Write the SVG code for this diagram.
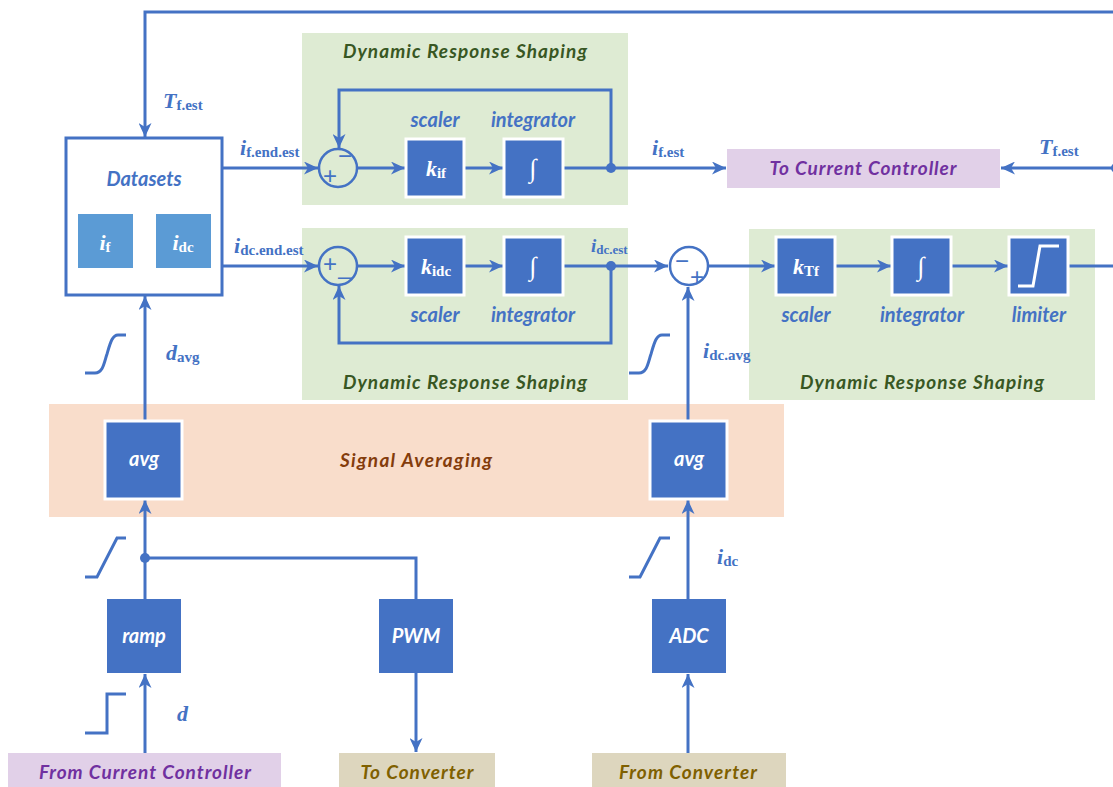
<svg xmlns="http://www.w3.org/2000/svg" width="1113" height="787" viewBox="0 0 1113 787">
<style>
.ln{fill:none;stroke:#4472C4;stroke-width:3}
.ar{marker-end:url(#ah)}
.blk{fill:#4472C4;stroke:#fff;stroke-width:3}
.blk2{fill:#4472C4}
.sym{fill:none;stroke:#fff;stroke-width:3}
.t{font-family:Lato,"Open Sans",sans-serif;font-weight:bold;font-style:italic;text-anchor:middle}
.wt{fill:#fff;font-size:20px}
.bt{fill:#4472C4;font-size:20px}
.gt{fill:#385723;font-size:19px}
.m{font-family:"Liberation Serif","DejaVu Serif",serif;font-weight:bold;fill:#4472C4}
.v{font-style:italic;font-size:22px}
.s{font-size:15px}
.mw{font-family:"Liberation Serif","DejaVu Serif",serif;font-weight:bold;fill:#fff;text-anchor:middle}
.sg{font-family:"Liberation Sans",sans-serif;fill:#4472C4;font-size:24px;text-anchor:middle}
</style>
<defs>
<marker id="ah" markerWidth="15" markerHeight="13" refX="14" refY="6.5" orient="auto" markerUnits="userSpaceOnUse">
<path d="M0,0 L14,6.5 L0,13 L4,6.5 z" fill="#4472C4"/>
</marker>
</defs>

<g id="bg-top-drs">
<rect x="302" y="33" width="326" height="172" fill="#DEEBD3"/>
<text class="t gt" x="465" y="58" textLength="244" lengthAdjust="spacing">Dynamic Response Shaping</text>
</g>
<g id="bg-mid-drs">
<rect x="302" y="228" width="326" height="172" fill="#DEEBD3"/>
<text class="t gt" x="465" y="389" textLength="244" lengthAdjust="spacing">Dynamic Response Shaping</text>
</g>
<g id="bg-right-drs">
<rect x="749" y="229" width="346" height="171" fill="#DEEBD3"/>
<text class="t gt" x="922" y="389" textLength="244" lengthAdjust="spacing">Dynamic Response Shaping</text>
</g>
<g id="bg-avg">
<rect x="49" y="404" width="735" height="113" fill="#F9DDCB"/>
<text class="t" x="416" y="467" style="fill:#843C0C;font-size:19px" textLength="152" lengthAdjust="spacing">Signal Averaging</text>
</g>

<g id="connectors">
<polyline class="ln ar" points="1113,12 145,12 145,137"/>
<line class="ln ar" x1="1113" y1="168" x2="1001" y2="168"/>
<circle cx="1116" cy="168" r="5" fill="#4472C4"/>
<line class="ln ar" x1="222" y1="168" x2="318" y2="168"/>
<line class="ln ar" x1="357" y1="168" x2="405" y2="168"/>
<line class="ln ar" x1="464" y1="168" x2="503" y2="168"/>
<line class="ln ar" x1="563" y1="168" x2="726" y2="168"/>
<polyline class="ln ar" points="611,168 611,90 339,90 339,148"/>
<circle cx="611" cy="168" r="5" fill="#4472C4"/>
<line class="ln ar" x1="222" y1="266" x2="318" y2="266"/>
<line class="ln ar" x1="357" y1="266" x2="405" y2="266"/>
<line class="ln ar" x1="464" y1="266" x2="503" y2="266"/>
<line class="ln ar" x1="563" y1="266" x2="668" y2="266"/>
<polyline class="ln ar" points="611,266 611,343 339,343 339,286"/>
<circle cx="611" cy="266" r="5" fill="#4472C4"/>
<line class="ln ar" x1="708" y1="266" x2="775" y2="266"/>
<line class="ln ar" x1="835" y1="266" x2="891" y2="266"/>
<line class="ln ar" x1="951" y1="266" x2="1008" y2="266"/>
<line class="ln" x1="1068" y1="266" x2="1113" y2="266"/>
<line class="ln ar" x1="688" y1="421" x2="688" y2="287"/>
<line class="ln ar" x1="145" y1="421" x2="145" y2="296"/>
<line class="ln ar" x1="145" y1="599" x2="145" y2="500"/>
<polyline class="ln" points="145,558 416,558 416,599"/>
<circle cx="145" cy="558" r="5" fill="#4472C4"/>
<line class="ln ar" x1="416" y1="673" x2="416" y2="752"/>
<line class="ln ar" x1="145" y1="753" x2="145" y2="674"/>
<line class="ln ar" x1="688" y1="753" x2="688" y2="674"/>
<line class="ln ar" x1="688" y1="599" x2="688" y2="500"/>
<path class="ln" d="M85,373 L95,373 C103,373 104,363 107,354 C110,344 112,335 118,335 L126,335"/>
<path class="ln" d="M629,373 L639,373 C647,373 648,363 651,354 C654,344 656,335 662,335 L670,335"/>
<polyline class="ln" points="85,577 97,577 117,538 126,538"/>
<polyline class="ln" points="629,577 640,577 660,538 670,538"/>
<polyline class="ln" points="85,733 107,733 107,694 126,694"/>
</g>

<g id="datasets">
<rect x="66" y="138" width="156" height="157" fill="#fff" stroke="#4472C4" stroke-width="3"/>
<text class="t bt" x="144" y="186">Datasets</text>
<rect x="78" y="214" width="55" height="54" fill="#5B9BD5"/>
<rect x="156" y="214" width="55" height="54" fill="#5B9BD5"/>
<text class="mw" x="105" y="250"><tspan style="font-style:italic;font-size:22px">i</tspan><tspan font-size="15" dy="2">f</tspan></text>
<text class="mw" x="183" y="250"><tspan style="font-style:italic;font-size:22px">i</tspan><tspan font-size="15" dy="2">dc</tspan></text>
</g>

<g id="sum1">
<circle cx="338" cy="168" r="19" fill="none" stroke="#4472C4" stroke-width="2.5"/>
<text class="sg" x="330" y="184">+</text>
<text class="sg" x="345" y="164">−</text>
</g>
<g id="sum2">
<circle cx="338" cy="266" r="19" fill="none" stroke="#4472C4" stroke-width="2.5"/>
<text class="sg" x="330" y="272">+</text>
<text class="sg" x="345" y="274">_</text>
</g>
<g id="sum3">
<circle cx="689" cy="266" r="19" fill="none" stroke="#4472C4" stroke-width="2.5"/>
<text class="sg" x="682" y="269">−</text>
<text class="sg" x="697" y="285">+</text>
</g>

<g id="scaler-if">
<rect class="blk" x="406" y="139" width="58" height="58"/>
<text class="mw" x="436" y="176"><tspan style="font-style:italic;font-size:22px">k</tspan><tspan font-size="15" dy="2">if</tspan></text>
<text class="t bt" x="435" y="127">scaler</text>
</g>
<g id="integ-if">
<rect class="blk" x="504" y="139" width="59" height="58"/>
<text class="mw" x="533" y="177" font-size="26">∫</text>
<text class="t bt" x="533" y="127">integrator</text>
</g>
<g id="to-cc">
<rect x="727" y="149" width="273" height="39" fill="#E1D0E8"/>
<text class="t" x="863" y="175" style="fill:#7030A0;font-size:19px" textLength="187" lengthAdjust="spacing">To Current Controller</text>
</g>

<g id="scaler-idc">
<rect class="blk" x="406" y="237" width="58" height="58"/>
<text class="mw" x="436" y="274"><tspan style="font-style:italic;font-size:22px">k</tspan><tspan font-size="15" dy="2">idc</tspan></text>
<text class="t bt" x="435" y="322">scaler</text>
</g>
<g id="integ-idc">
<rect class="blk" x="504" y="237" width="59" height="58"/>
<text class="mw" x="533" y="275" font-size="26">∫</text>
<text class="t bt" x="533" y="322">integrator</text>
</g>

<g id="scaler-tf">
<rect class="blk" x="776" y="237" width="59" height="58"/>
<text class="mw" x="806" y="274"><tspan style="font-style:italic;font-size:22px">k</tspan><tspan font-size="15" dy="2">Tf</tspan></text>
<text class="t bt" x="806" y="322">scaler</text>
</g>
<g id="integ-tf">
<rect class="blk" x="892" y="237" width="59" height="58"/>
<text class="mw" x="921" y="275" font-size="26">∫</text>
<text class="t bt" x="922" y="322">integrator</text>
</g>
<g id="limiter">
<rect class="blk" x="1009" y="237" width="59" height="58"/>
<polyline class="sym" points="1018,286 1033,286 1040,246 1059,246"/>
<text class="t bt" x="1039" y="322">limiter</text>
</g>

<g id="avg1">
<rect class="blk" x="105" y="421" width="77" height="78"/>
<text class="t wt" x="144" y="466">avg</text>
</g>
<g id="avg2">
<rect class="blk" x="650" y="421" width="77" height="78"/>
<text class="t wt" x="689" y="466">avg</text>
</g>

<g id="ramp">
<rect class="blk2" x="107" y="599" width="74" height="74"/>
<text class="t wt" x="144" y="643">ramp</text>
</g>
<g id="pwm">
<rect class="blk2" x="379" y="599" width="74" height="74"/>
<text class="t wt" x="416" y="643">PWM</text>
</g>
<g id="adc">
<rect class="blk2" x="652" y="599" width="74" height="74"/>
<text class="t wt" x="689" y="643">ADC</text>
</g>

<g id="from-cc">
<rect x="8" y="753" width="273" height="34" fill="#E1D0E8"/>
<text class="t" x="145" y="779" style="fill:#7030A0;font-size:19px" textLength="212" lengthAdjust="spacing">From Current Controller</text>
</g>
<g id="to-conv">
<rect x="339" y="753" width="156" height="34" fill="#DDD6BE"/>
<text class="t" x="417" y="779" style="fill:#7F6000;font-size:19px" textLength="113" lengthAdjust="spacing">To Converter</text>
</g>
<g id="from-conv">
<rect x="592" y="753" width="194" height="34" fill="#DDD6BE"/>
<text class="t" x="688" y="779" style="fill:#7F6000;font-size:19px" textLength="138" lengthAdjust="spacing">From Converter</text>
</g>

<g id="labels">
<text class="m" x="163" y="108"><tspan class="v">T</tspan><tspan class="s" dy="2">f.est</tspan></text>
<text class="m" x="240" y="155"><tspan class="v">i</tspan><tspan class="s" dy="2">f.end.est</tspan></text>
<text class="m" x="234" y="253"><tspan class="v">i</tspan><tspan class="s" dy="2">dc.end.est</tspan></text>
<text class="m" x="652" y="155"><tspan class="v">i</tspan><tspan class="s" dy="2">f.est</tspan></text>
<text class="m" x="1039" y="154"><tspan class="v">T</tspan><tspan class="s" dy="2">f.est</tspan></text>
<text class="m" x="591" y="252"><tspan class="v" style="font-size:19px">i</tspan><tspan style="font-size:13px" dy="2">dc.est</tspan></text>
<text class="m" x="703" y="358"><tspan class="v">i</tspan><tspan class="s" dy="2">dc.avg</tspan></text>
<text class="m" x="166" y="360"><tspan class="v">d</tspan><tspan class="s" dy="2">avg</tspan></text>
<text class="m" x="717" y="564"><tspan class="v">i</tspan><tspan class="s" dy="2">dc</tspan></text>
<text class="m" x="177" y="721"><tspan class="v">d</tspan></text>
</g>
</svg>
